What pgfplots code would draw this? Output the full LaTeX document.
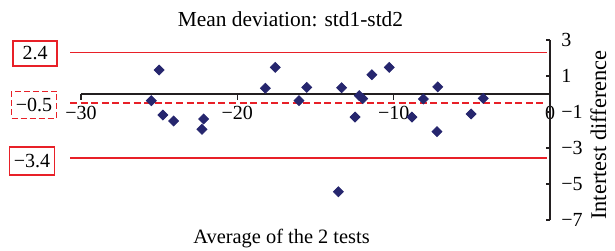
\documentclass[border=0pt]{standalone}
\usepackage{fontspec}
\setmainfont{Liberation Serif}
\usepackage{pgfplots}
\pgfplotsset{compat=1.18}
\definecolor{navy}{RGB}{38,38,110}
\definecolor{myred}{RGB}{232,32,40}
\definecolor{axblack}{RGB}{35,31,32}
\begin{document}
\begin{tikzpicture}
\begin{axis}[
  scale only axis, width=234.5pt, height=90pt,
  xmin=-30, xmax=0, ymin=-7, ymax=3,
  axis lines=none, clip=false,
]
\addplot[myred, line width=0.65pt] coordinates {(-30.7,2.3) (-0.19,2.3)};
\addplot[myred, line width=0.55pt, dash pattern=on 3.5pt off 1.8pt] coordinates {(-30.7,-0.5) (-0.19,-0.5)};
\addplot[myred, line width=0.65pt] coordinates {(-30.7,-3.55) (-0.19,-3.55)};
% x axis
\draw[line width=0.6pt, axblack] (axis cs:-30,0) -- (axis cs:0,0);
\draw[line width=0.6pt, axblack] (axis cs:-30,0) -- ([yshift=-2.8pt]axis cs:-30,0);
\draw[line width=0.6pt, axblack] (axis cs:-20,0) -- ([yshift=-2.8pt]axis cs:-20,0);
\draw[line width=0.6pt, axblack] (axis cs:-10,0) -- ([yshift=-2.8pt]axis cs:-10,0);
\node[anchor=base, inner sep=0pt, yshift=-12.75pt] at (axis cs:-30,0) {−30};
\node[anchor=base, inner sep=0pt, yshift=-12.75pt] at (axis cs:-20,0) {−20};
\node[anchor=base, inner sep=0pt, yshift=-12.75pt] at (axis cs:-10,0) {−10};
\node[anchor=base, inner sep=0pt, yshift=-12.75pt] at (axis cs:0,0) {0};
% y axis
\draw[line width=0.6pt, axblack] (axis cs:0,-7) -- (axis cs:0,3);
\draw[line width=0.6pt, axblack] (axis cs:0,3) -- ([xshift=-2.2pt]axis cs:0,3);
\draw[line width=0.6pt, axblack] (axis cs:0,1) -- ([xshift=-2.2pt]axis cs:0,1);
\draw[line width=0.6pt, axblack] (axis cs:0,-1) -- ([xshift=-2.2pt]axis cs:0,-1);
\draw[line width=0.6pt, axblack] (axis cs:0,-3) -- ([xshift=-2.2pt]axis cs:0,-3);
\draw[line width=0.6pt, axblack] (axis cs:0,-5) -- ([xshift=-2.2pt]axis cs:0,-5);
\draw[line width=0.6pt, axblack] (axis cs:0,-7) -- ([xshift=-2.2pt]axis cs:0,-7);
\node[anchor=west, inner sep=0pt, xshift=5.5pt] at (axis cs:0,3) {3};
\node[anchor=west, inner sep=0pt, xshift=5.5pt] at (axis cs:0,1) {1};
\node[anchor=west, inner sep=0pt, xshift=5.5pt] at (axis cs:0,-1) {−1};
\node[anchor=west, inner sep=0pt, xshift=5.5pt] at (axis cs:0,-3) {−3};
\node[anchor=west, inner sep=0pt, xshift=5.5pt] at (axis cs:0,-5) {−5};
\node[anchor=west, inner sep=0pt, xshift=5.5pt] at (axis cs:0,-7) {−7};
% data
\addplot[only marks, mark=square*, mark size=1.75pt, mark options={rotate=45, fill=navy, draw=navy}] table {
x y
-25.0 1.33
-25.5 -0.37
-24.76 -1.17
-24.07 -1.5
-22.15 -1.39
-22.26 -1.96
-18.21 0.32
-17.57 1.48
-16.06 -0.37
-15.56 0.37
-13.33 0.35
-13.54 -5.43
-12.47 -1.28
-12.2 -0.09
-11.98 -0.26
-11.39 1.07
-10.28 1.48
-8.83 -1.28
-8.1 -0.28
-7.18 0.39
-7.23 -2.09
-5.05 -1.11
-4.27 -0.24
};
% texts
\node[anchor=base, inner sep=0pt, font=\fontsize{10.7}{13}\selectfont] at (axis cs:-16.6,3.74) {Mean deviation: std1-std2};
\node[anchor=base, inner sep=0pt, font=\fontsize{10.2}{12}\selectfont] at (axis cs:-17.17,-8.29) {Average of the 2 tests};
\node[rotate=90, anchor=base, inner sep=0pt, font=\fontsize{11.2}{13}\selectfont] at (axis cs:3.582,-2.278) {Intertest difference};
\node[draw=myred, line width=0.6pt, minimum width=22pt, minimum height=12.5pt, inner sep=1pt] at (axis cs:-32.94,2.25) {2.4};
\node[draw=myred, line width=0.6pt, dash pattern=on 3pt off 1.5pt, minimum width=22.5pt, minimum height=13.5pt, inner sep=1pt] at (axis cs:-33.0,-0.59) {−0.5};
\node[draw=myred, line width=0.6pt, minimum width=22.5pt, minimum height=14pt, inner sep=1pt] at (axis cs:-33.13,-3.72) {−3.4};
\coordinate (TL) at (axis cs:-35.18,5.222);
\coordinate (BR) at (axis cs:4.158,-8.667);
\end{axis}
\pgfresetboundingbox
\path (TL) rectangle (BR);
\end{tikzpicture}
\end{document}
